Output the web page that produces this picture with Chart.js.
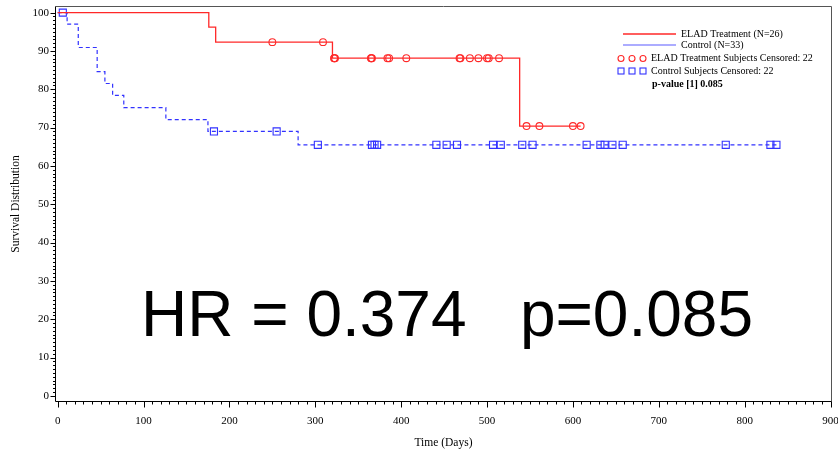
<!DOCTYPE html>
<html>
<head>
<meta charset="utf-8">
<style>
  html, body { margin: 0; padding: 0; background: #fff; }
</style>
</head>
<body>
<canvas id="kmChart" width="838" height="453"></canvas>

<script src="https://cdn.jsdelivr.net/npm/chart.js/dist/chart.umd.min.js"></script>
<script>
// Kaplan-Meier steps, values
const eladTimes = [0, 176, 184, 320, 538, 609];
const eladSurv  = [100, 96.2, 92.3, 88.1, 70.4, 70.4];
const ctrlTimes = [0, 11, 24, 46, 55, 64, 77, 126, 175, 280, 837];
const ctrlSurv  = [100, 97, 90.9, 84.6, 81.5, 78.4, 75.2, 72.1, 69, 65.5, 65.5];

// censored subjects (22 each)
const eladCensorTimes = [250, 309, 322, 323, 365, 366, 384, 386, 406, 468, 469, 480, 490, 500, 502, 514, 546, 561, 600, 609, 322, 365];
const eladCensorSurv  = [92.3, 92.3, 88.1, 88.1, 88.1, 88.1, 88.1, 88.1, 88.1, 88.1, 88.1, 88.1, 88.1, 88.1, 88.1, 88.1, 70.4, 70.4, 70.4, 70.4, 88.1, 88.1];
const ctrlCensorTimes = [6, 182, 255, 303, 366, 369, 372, 441, 453, 465, 507, 516, 541, 553, 616, 632, 637, 646, 658, 778, 830, 837];
const ctrlCensorSurv  = [100, 69, 69, 65.5, 65.5, 65.5, 65.5, 65.5, 65.5, 65.5, 65.5, 65.5, 65.5, 65.5, 65.5, 65.5, 65.5, 65.5, 65.5, 65.5, 65.5, 65.5];

const xTicks = [0, 100, 200, 300, 400, 500, 600, 700, 800, 900];
const yTicks = [0, 10, 20, 30, 40, 50, 60, 70, 80, 90, 100];

const RED = 'rgb(255,40,40)';
const BLUE = 'rgb(50,50,255)';
const SERIF = '"Liberation Serif", "Times New Roman", serif';

const toXY = (xs, ys) => xs.map((x, i) => ({ x: x, y: ys[i] }));

// frame, minor ticks, titles, legend and the big HR text
const decorations = {
  id: 'decorations',
  afterDraw(chart) {
    const { ctx, chartArea: a, scales: { x, y } } = chart;
    ctx.save();
    const L = Math.round(a.left) + 0.5, R = Math.round(a.right) - 0.5;
    const T = Math.round(a.top) + 0.5, B = Math.round(a.bottom) - 0.5;

    // frame
    ctx.lineWidth = 1;
    ctx.strokeStyle = '#555';
    ctx.beginPath();
    ctx.moveTo(L, T); ctx.lineTo(R, T); ctx.lineTo(R, B);
    ctx.stroke();
    ctx.strokeStyle = '#000';
    ctx.beginPath();
    ctx.moveTo(L, T); ctx.lineTo(L, B); ctx.lineTo(R, B);
    ctx.stroke();

    // ticks
    ctx.beginPath();
    for (let v = 0; v <= 900; v += 10) {
      const px = Math.round(x.getPixelForValue(v)) + 0.5;
      ctx.moveTo(px, B);
      ctx.lineTo(px, B + (v % 100 === 0 ? 6 : 3));
    }
    for (let v = 0; v <= 100; v += 1) {
      const py = Math.round(y.getPixelForValue(v)) + 0.5;
      ctx.moveTo(L, py);
      ctx.lineTo(L - (v % 10 === 0 ? 5 : 2.5), py);
    }
    ctx.stroke();

    // axis titles
    ctx.fillStyle = '#000';
    ctx.font = '11.5px ' + SERIF;
    ctx.textAlign = 'center';
    ctx.textBaseline = 'middle';
    ctx.fillText('Time (Days)', (a.left + a.right) / 2, 443);
    ctx.save();
    ctx.translate(16, (a.top + a.bottom) / 2);
    ctx.rotate(-Math.PI / 2);
    ctx.fillText('Survival Distribution', 0, 0);
    ctx.restore();

    // legend
    ctx.textAlign = 'left';
    ctx.font = '10px ' + SERIF;
    ctx.lineWidth = 1.3;
    ctx.strokeStyle = RED;
    ctx.beginPath(); ctx.moveTo(623, 34); ctx.lineTo(676, 34); ctx.stroke();
    ctx.lineWidth = 1.2;
    ctx.strokeStyle = 'rgb(90,90,255)';
    ctx.beginPath(); ctx.moveTo(623, 45); ctx.lineTo(676, 45); ctx.stroke();
    ctx.fillText('ELAD Treatment (N=26)', 681, 34);
    ctx.fillText('Control (N=33)', 681, 45);

    ctx.lineWidth = 1.1;
    [621, 632, 643].forEach(cx => {
      ctx.strokeStyle = RED;
      ctx.beginPath(); ctx.arc(cx, 58.5, 3, 0, Math.PI * 2); ctx.stroke();
      ctx.strokeStyle = BLUE;
      ctx.strokeRect(cx - 3, 68, 6, 6);
    });
    ctx.fillText('ELAD Treatment Subjects Censored: 22', 651, 58.5);
    ctx.fillText('Control Subjects Censored: 22', 651, 71);
    ctx.font = 'bold 10px ' + SERIF;
    ctx.fillText('p-value [1] 0.085', 652, 84.5);

    // big annotation
    ctx.font = '64px "Liberation Sans", Arial, sans-serif';
    ctx.textBaseline = 'alphabetic';
    ctx.fillText('HR = 0.374   p=0.085', 141, 336);

    ctx.restore();
  }
};

new Chart(document.getElementById('kmChart'), {
  type: 'line',
  data: {
    datasets: [
      {
        label: 'ELAD Treatment (N=26)',
        data: toXY(eladTimes, eladSurv),
        stepped: 'before',
        borderColor: RED,
        borderWidth: 1.3,
        pointRadius: 0,
        fill: false
      },
      {
        label: 'Control (N=33)',
        data: toXY(ctrlTimes, ctrlSurv),
        stepped: 'before',
        borderColor: BLUE,
        borderWidth: 1.2,
        borderDash: [4, 3],
        pointRadius: 0,
        fill: false
      },
      {
        label: 'ELAD Treatment Subjects Censored',
        data: toXY(eladCensorTimes, eladCensorSurv),
        showLine: false,
        pointStyle: 'circle',
        pointRadius: 3.4,
        pointBorderWidth: 1.1,
        pointBorderColor: RED,
        pointBackgroundColor: 'rgba(0,0,0,0)'
      },
      {
        label: 'Control Subjects Censored',
        data: toXY(ctrlCensorTimes, ctrlCensorSurv),
        showLine: false,
        pointStyle: 'rect',
        pointRadius: 5,
        pointBorderWidth: 1.1,
        pointBorderColor: BLUE,
        pointBackgroundColor: 'rgba(0,0,0,0)'
      }
    ]
  },
  options: {
    responsive: false,
    animation: false,
    events: [],
    layout: { padding: { top: 6, right: 2, left: 0, bottom: 0 } },
    plugins: {
      legend: { display: false },
      tooltip: { enabled: false }
    },
    scales: {
      x: {
        type: 'linear',
        min: -3.1,
        max: 901.6,
        afterBuildTicks: s => { s.ticks = xTicks.map(v => ({ value: v })); },
        afterFit: s => { s.height = 51; s.paddingLeft = 0; s.paddingRight = 0; },
        grid: { display: false, drawTicks: false },
        border: { display: false },
        ticks: {
          color: '#000',
          font: { family: SERIF, size: 11 },
          padding: 13,
          maxRotation: 0,
          autoSkip: false
        }
      },
      y: {
        type: 'linear',
        min: -1.6,
        max: 101.7,
        afterBuildTicks: s => { s.ticks = yTicks.map(v => ({ value: v })); },
        afterFit: s => { s.width = 55; s.paddingTop = 0; s.paddingBottom = 0; },
        grid: { display: false, drawTicks: false },
        border: { display: false },
        ticks: {
          color: '#000',
          font: { family: SERIF, size: 11 },
          padding: 6
        }
      }
    }
  },
  plugins: [decorations]
});
</script>
</body>
</html>
